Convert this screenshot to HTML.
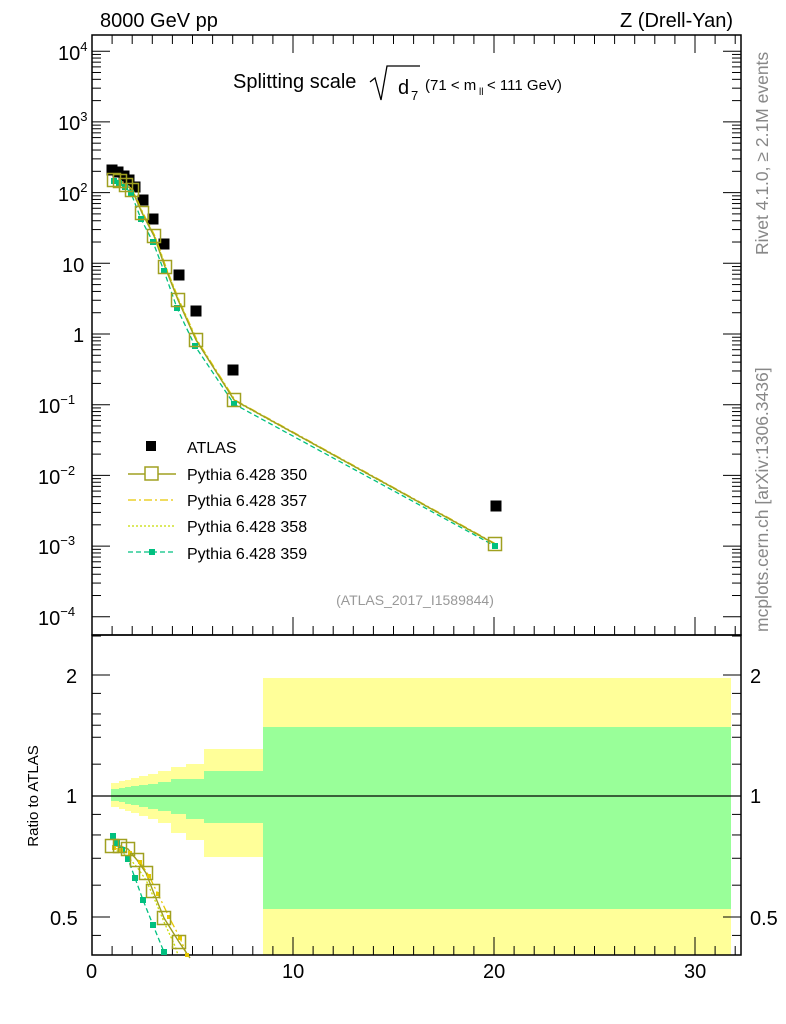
<!DOCTYPE html>
<html><head><meta charset="utf-8"><style>
body{margin:0;background:#fff;}
svg{display:block;font-family:"Liberation Sans",sans-serif;}
</style></head><body>
<svg id="s" width="786" height="1024" viewBox="0 0 786 1024" xmlns="http://www.w3.org/2000/svg">
<rect width="786" height="1024" fill="#fff"/>
<g id="bands"></g>
<line x1="92" y1="796" x2="741" y2="796" stroke="#000" stroke-width="1.2"/>
<g id="ticks" stroke="#000" stroke-width="1"></g>
<rect x="92" y="35" width="649" height="600" fill="none" stroke="#000" stroke-width="1.5"/>
<rect x="92" y="635" width="649" height="320" fill="none" stroke="#000" stroke-width="1.5"/>
<g id="data"></g>
<g font-size="20" fill="#000">
<text x="100" y="27">8000 GeV pp</text>
<text x="733" y="27" text-anchor="end">Z (Drell-Yan)</text>
<text x="233" y="88">Splitting scale</text>
<path d="M370 82 L375 78 L381 100 L387 66 L420 66" fill="none" stroke="#000" stroke-width="1.3"/>
<text x="398" y="94">d</text><text x="411" y="100" font-size="13">7</text>
<text x="425" y="90" font-size="15">(71 &lt; m</text><text x="479" y="95" font-size="10">ll</text><text x="487" y="90" font-size="15">&lt; 111 GeV)</text>
<text x="58" y="60">10<tspan font-size="13" dy="-9">4</tspan></text>
<text x="58" y="130">10<tspan font-size="13" dy="-9">3</tspan></text>
<text x="58" y="201">10<tspan font-size="13" dy="-9">2</tspan></text>
<text x="62" y="272">10</text>
<text x="73" y="342">1</text>
<text x="38" y="413">10<tspan font-size="13" dy="-9">−1</tspan></text>
<text x="38" y="484">10<tspan font-size="13" dy="-9">−2</tspan></text>
<text x="38" y="554">10<tspan font-size="13" dy="-9">−3</tspan></text>
<text x="38" y="625">10<tspan font-size="13" dy="-9">−4</tspan></text>
<text x="66" y="683">2</text><text x="66" y="803">1</text><text x="50" y="925">0.5</text>
<text x="750" y="683">2</text><text x="750" y="803">1</text><text x="750" y="925">0.5</text>
<text x="86" y="978">0</text><text x="282" y="978">10</text><text x="483" y="978">20</text><text x="684" y="978">30</text>
<text x="187" y="453" font-size="16">ATLAS</text>
<text x="187" y="480" font-size="16">Pythia 6.428 350</text>
<text x="187" y="506" font-size="16">Pythia 6.428 357</text>
<text x="187" y="532" font-size="16">Pythia 6.428 358</text>
<text x="187" y="559" font-size="16">Pythia 6.428 359</text>
<text x="415" y="605" font-size="14" fill="#999" text-anchor="middle">(ATLAS_2017_I1589844)</text>
<text transform="translate(38,796) rotate(-90)" font-size="15" text-anchor="middle">Ratio to ATLAS</text>
<text transform="translate(768,255) rotate(-90)" font-size="17.5" fill="#888">Rivet 4.1.0, ≥ 2.1M events</text>
<text transform="translate(768,632) rotate(-90)" font-size="17.5" fill="#888">mcplots.cern.ch [arXiv:1306.3436]</text>
</g>
</svg>
<script>
const NS="http://www.w3.org/2000/svg";
function el(p,t,a){const e=document.createElementNS(NS,t);for(const k in a)e.setAttribute(k,a[k]);document.getElementById(p).appendChild(e);return e;}
const bins=[[111,119,783,789,801,807],[119,125,781,788,802,809],[125,131,780,787,804,811],[131,139,778,786,805,813],[139,148,776,785,807,816],[148,158,774,784,809,819],[158,171,771,782,811,823],[171,186,767,779,814,833],[186,204,764,779,819,840],[204,263,749,771,823,857],[263,731,678,727,909,955]];
for(const b of bins){el("bands","rect",{x:b[0],y:b[2],width:b[1]-b[0],height:b[5]-b[2],fill:"#ffff99"});
el("bands","rect",{x:b[0],y:b[3],width:b[1]-b[0],height:b[4]-b[3],fill:"#99ff99"});}
for(let d=-4;d<=4;d++){const y=334-70.7*d;
 el("ticks","line",{x1:92,x2:110,y1:y,y2:y});el("ticks","line",{x1:741,x2:723,y1:y,y2:y});
 if(d<4)for(let m=2;m<10;m++){const yy=y-70.7*Math.log10(m);el("ticks","line",{x1:92,x2:101,y1:yy,y2:yy});el("ticks","line",{x1:741,x2:732,y1:yy,y2:yy});}}
function ry(r){return 796-402*Math.log10(r);}
[2,1,0.5].forEach(r=>{const y=ry(r);el("ticks","line",{x1:92,x2:110,y1:y,y2:y});el("ticks","line",{x1:741,x2:723,y1:y,y2:y});});
[0.6,0.7,0.8,0.9,1.5,1.2,1.4,1.6,1.8,2.5,0.45].forEach(r=>{const y=ry(r);if(y>636&&y<954){el("ticks","line",{x1:92,x2:101,y1:y,y2:y});el("ticks","line",{x1:741,x2:732,y1:y,y2:y});}});
for(let v=0;v<=32;v++){const x=92+20.1*v;const L=v%10==0?18:9;
 [635,955].forEach(yb=>el("ticks","line",{x1:x,x2:x,y1:yb,y2:yb-L}));
 el("ticks","line",{x1:x,x2:x,y1:35,y2:35+L});}
const atlas=[[112,170],[118,172],[124,176],[129,180],[135,187],[143,200],[153,219],[164,244],[179,275],[196,311],[233,370],[496,506]];
for(const p of atlas)el("data","rect",{x:p[0]-5.5,y:p[1]-5.5,width:11,height:11,fill:"#000"});
const m350=[[114,180],[120,181],[126,185],[132,190],[142,213],[154,236],[165,267],[178,300],[196,340],[234,400],[495,544]];
const m359=[[114,181],[119,183],[125,187],[131,193],[141,219],[153,242],[164,271],[177,308],[195,346],[234,404],[495,546]];
const pts=a=>a.map(p=>p.join(",")).join(" ");
el("data","polyline",{points:pts(m350.map(p=>[p[0]+1,p[1]])),fill:"none",stroke:"#e6c800","stroke-width":1.3,"stroke-dasharray":"8,3,2,3"});
el("data","polyline",{points:pts(m350.map(p=>[p[0]+1,p[1]+1])),fill:"none",stroke:"#c8dc00","stroke-width":1.3,"stroke-dasharray":"2,2"});
el("data","polyline",{points:pts(m359),fill:"none",stroke:"#00c080","stroke-width":1.3,"stroke-dasharray":"5,3"});
el("data","polyline",{points:pts(m350),fill:"none",stroke:"#a0a020","stroke-width":1.4});
for(const p of m359)el("data","rect",{x:p[0]-3,y:p[1]-3,width:6,height:6,fill:"#00c080"});
for(const p of m350)el("data","rect",{x:p[0]-6.5,y:p[1]-6.5,width:13,height:13,fill:"none",stroke:"#a0a020","stroke-width":1.5});
const r350=[[112,846],[120,846],[128,849],[137,860],[146,873],[153,891],[164,918],[179,942],[190,958]];
const r357=[[114,848],[121,850],[130,853],[140,862],[149,876],[158,894],[169,917],[180,938],[187,955]];
const r358=[[113,849],[120,852],[128,857],[137,867],[146,880],[154,898],[164,922],[175,946],[178,955]];
const r359=[[113,836],[117,843],[122,850],[128,859],[135,878],[143,900],[153,925],[164,952]];
el("data","polyline",{points:pts(r357),fill:"none",stroke:"#e6c800","stroke-width":1.3,"stroke-dasharray":"8,3,2,3"});
el("data","polyline",{points:pts(r358),fill:"none",stroke:"#c8dc00","stroke-width":1.3,"stroke-dasharray":"2,2"});
el("data","polyline",{points:pts(r359),fill:"none",stroke:"#00c080","stroke-width":1.3,"stroke-dasharray":"5,3"});
el("data","polyline",{points:pts(r350),fill:"none",stroke:"#a0a020","stroke-width":1.4});
for(const p of r359)el("data","rect",{x:p[0]-3,y:p[1]-3,width:6,height:6,fill:"#00c080"});
for(const p of r357)el("data","rect",{x:p[0]-2,y:p[1]-2,width:4,height:4,fill:"#e6c800"});
for(const p of r350.slice(0,8))el("data","rect",{x:p[0]-6.5,y:p[1]-6.5,width:13,height:13,fill:"none",stroke:"#a0a020","stroke-width":1.5});
el("data","rect",{x:146,y:441,width:10,height:10,fill:"#000"});
el("data","line",{x1:128,x2:176,y1:474,y2:474,stroke:"#a0a020","stroke-width":1.4});
el("data","rect",{x:145,y:467,width:13,height:13,fill:"#fff",stroke:"#a0a020","stroke-width":1.5});
el("data","line",{x1:128,x2:176,y1:500,y2:500,stroke:"#e6c800","stroke-width":1.3,"stroke-dasharray":"8,3,2,3"});
el("data","line",{x1:128,x2:176,y1:526,y2:526,stroke:"#c8dc00","stroke-width":1.3,"stroke-dasharray":"2,2"});
el("data","line",{x1:128,x2:176,y1:552,y2:552,stroke:"#00c080","stroke-width":1.3,"stroke-dasharray":"5,3"});
el("data","rect",{x:149,y:549,width:6,height:6,fill:"#00c080"});
</script>
</body></html>
